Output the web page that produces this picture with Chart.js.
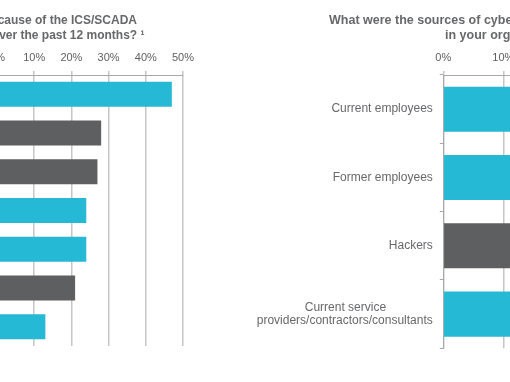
<!DOCTYPE html>
<html><head><meta charset="utf-8">
<script src="https://cdn.jsdelivr.net/npm/chart.js@4.4.1/dist/chart.umd.min.js"></script>
<style>
html,body{margin:0;padding:0;background:#fff;overflow:hidden;}
#wrap{position:relative;width:510px;height:382px;overflow:hidden;background:#fff;}
#c1{position:absolute;left:-40px;top:0;width:240px;height:382px;}
#c2{position:absolute;left:240px;top:0;width:540px;height:382px;}
</style></head><body>
<div id="wrap">
<canvas id="c1" width="240" height="382"></canvas>
<canvas id="c2" width="540" height="382"></canvas>
</div>
<script>
// ---- data ----
const causeCategories = ['', '', '', '', '', '', ''];           // labels lie outside the visible crop
const causeValues = [47, 28, 27, 24, 24, 21, 13];
const causeGroups = ['a', 'b', 'b', 'a', 'a', 'b', 'a'];

const sourceCategories = [
  'Current employees',
  'Former employees',
  'Hackers',
  ['Current service\u00A0\u00A0\u00A0\u00A0\u00A0\u00A0\u00A0\u00A0\u00A0\u00A0\u00A0\u00A0\u00A0\u00A0', 'providers/contractors/consultants']
];
const sourceValues = [35, 30, 24, 22];
const sourceGroups = ['a', 'a', 'b', 'a'];

const percentTicks = [0, 10, 20, 30, 40, 50];

const leftTitle = ['cause of the ICS/SCADA', 'over the past 12 months? \u00B9'];
const rightTitle = ['What were the sources of cyber attacks', 'in your organization?'];

// ---- styles ----
const FONT = '"Liberation Sans", Arial, Helvetica, sans-serif';
const CYAN = '#25B9D6';
const DARK = '#5E5F61';
const groupColor = g => (g === 'a' ? CYAN : DARK);
const TEXT = '#67686a';
const GRID = '#c6c6c6';
const AXIS = '#a8a8a8';

const fragTitle = {
  id: 'fragTitle',
  afterDraw(chart, args, opts) {
    if (!opts || !opts.lines) return;
    const ctx = chart.ctx;
    ctx.save();
    ctx.font = opts.font;
    ctx.fillStyle = opts.color;
    ctx.textBaseline = 'alphabetic';
    opts.lines.forEach(l => {
      ctx.textAlign = l.align;
      ctx.fillText(l.text, l.x, l.y);
    });
    ctx.restore();
  }
};
Chart.register(fragTitle);

function xScale() {
  return {
    position: 'top',
    min: 0, max: 50,
    afterFit(s) { s.height = 30; },
    afterBuildTicks(s) { s.ticks = percentTicks.map(v => ({ value: v })); },
    ticks: {
      callback: v => v + '%',
      font: { family: FONT, size: 11 },
      color: '#5f6062',
      padding: 6
    },
    grid: { color: GRID, lineWidth: 1.5, tickLength: 4, drawTicks: true },
    border: { color: AXIS, width: 1 }
  };
}

new Chart(document.getElementById('c1'), {
  type: 'bar',
  data: {
    labels: causeCategories,
    datasets: [{
      data: causeValues,
      backgroundColor: causeGroups.map(groupColor),
      borderWidth: 0,
      barPercentage: 0.646,
      categoryPercentage: 1
    }]
  },
  options: {
    responsive: false,
    animation: false,
    indexAxis: 'y',
    layout: { padding: { left: 37, right: 16.7, top: 45, bottom: 36 } },
    plugins: {
      legend: { display: false },
      tooltip: { enabled: false },
      fragTitle: {
        font: 'bold 12px ' + FONT,
        color: TEXT,
        lines: [
          { text: leftTitle[0], x: 177, y: 24, align: 'right' },
          { text: leftTitle[1], x: 184.5, y: 39, align: 'right' }
        ]
      }
    },
    scales: {
      x: xScale(),
      y: { display: false }
    }
  }
});

new Chart(document.getElementById('c2'), {
  type: 'bar',
  data: {
    labels: sourceCategories,
    datasets: [{
      data: sourceValues,
      backgroundColor: sourceGroups.map(groupColor),
      borderWidth: 0,
      barPercentage: 0.659,
      categoryPercentage: 1
    }]
  },
  options: {
    responsive: false,
    animation: false,
    indexAxis: 'y',
    layout: { padding: { left: 3.3, right: 36.7, top: 45, bottom: 33.7 } },
    plugins: {
      legend: { display: false },
      tooltip: { enabled: false },
      fragTitle: {
        font: 'bold 12.5px ' + FONT,
        color: TEXT,
        lines: [
          { text: rightTitle[0], x: 89, y: 24, align: 'left' },
          { text: rightTitle[1], x: 205, y: 38.5, align: 'left' }
        ]
      }
    },
    scales: {
      x: xScale(),
      y: {
        afterFit(s) { s.width = 200; },
        ticks: {
          font: { family: FONT, size: 12, lineHeight: 1.12 },
          color: TEXT,
          padding: 7
        },
        grid: { drawOnChartArea: false, drawTicks: true, tickLength: 3.5, color: AXIS, offset: true },
        border: { color: AXIS, width: 1 }
      }
    }
  }
});
</script>
</body></html>
